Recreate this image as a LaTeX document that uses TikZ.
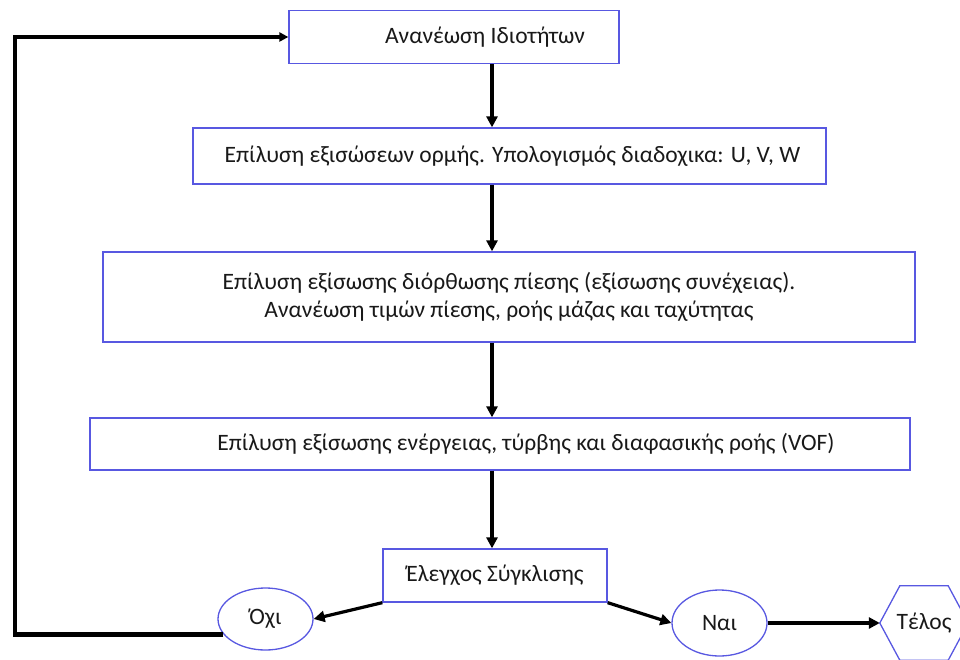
\documentclass[tikz,border=0pt]{standalone}
\usepackage{fontspec}
\setmainfont{Carlito}
\usetikzlibrary{arrows.meta,shapes.geometric}
\definecolor{boxblue}{RGB}{88,88,225}
\definecolor{txt}{RGB}{25,25,25}
\tikzset{
  stepbox/.style={draw=boxblue,line width=1.3pt,fill=white,text=txt,inner sep=0pt,align=center,font=\fontsize{23.5}{28}\selectfont},
  oval/.style={ellipse,draw=boxblue,line width=1.3pt,text=txt,inner sep=0pt,font=\fontsize{23.5}{28}\selectfont},
  flow/.style={line width=3.2pt,-{Triangle[length=11pt,width=11pt]}},
  backloop/.style={line width=4.6pt,-{Triangle[length=9pt,width=9pt]}}
}
\begin{document}
\begin{tikzpicture}[x=1pt,y=-1pt]
\useasboundingbox (0,0) rectangle (960,660);
\node[stepbox,minimum width=330pt,minimum height=53pt] (n1) at (454,37) {\hspace*{62pt}Ανανέωση Ιδιοτήτων};
\node[stepbox,minimum width=633pt,minimum height=56pt] (n2) at (509.5,156) {\hspace*{6pt}Επίλυση εξισώσεων ορμής. Υπολογισμός διαδοχικα: U, V, W};
\node[stepbox,minimum width=812pt,minimum height=90pt] (n3) at (509,297) {Επίλυση εξίσωσης διόρθωσης πίεσης (εξίσωσης συνέχειας).\\Ανανέωση τιμών πίεσης, ροής μάζας και ταχύτητας};
\node[stepbox,minimum width=820pt,minimum height=52pt] (n4) at (500,444) {\hspace*{52pt}Επίλυση εξίσωσης ενέργειας, τύρβης και διαφασικής ροής (VOF)};
\node[stepbox,minimum width=224pt,minimum height=53pt] (n5) at (495,575.5) {Έλεγχος Σύγκλισης};
\node[oval,minimum width=95pt,minimum height=62pt] (no) at (265.5,619) {Όχι};
\node[oval,minimum width=95pt,minimum height=66pt] (yes) at (719.5,623) {Ναι};
\node[text=txt,font=\fontsize{23.5}{28}\selectfont,minimum width=88pt,minimum height=74pt,inner sep=0pt] (end) at (924,623) {Τέλος};
\draw[draw=boxblue,line width=1.3pt] (end.west) -- ([xshift=20pt]end.north west) -- ([xshift=-20pt]end.north east) -- (end.east) -- ([xshift=-20pt]end.south east) -- ([xshift=20pt]end.south west) -- cycle;
\coordinate (ax) at (492,0);
\coordinate (lx) at (15,300);
\draw[flow] (n1.south -| ax) -- (n2.north -| ax);
\draw[flow] (n2.south -| ax) -- (n3.north -| ax);
\draw[flow] (n3.south -| ax) -- (n4.north -| ax);
\draw[flow] (n4.south -| ax) -- (n5.north -| ax);
\draw[flow] (n5.south west) -- (no.east);
\draw[flow] (n5.south east) -- (yes.west);
\draw[flow,line width=3.8pt] (yes.east) -- (end.west);
\draw[backloop] (no.200) -| (lx) |- (n1.west);
\end{tikzpicture}
\end{document}
